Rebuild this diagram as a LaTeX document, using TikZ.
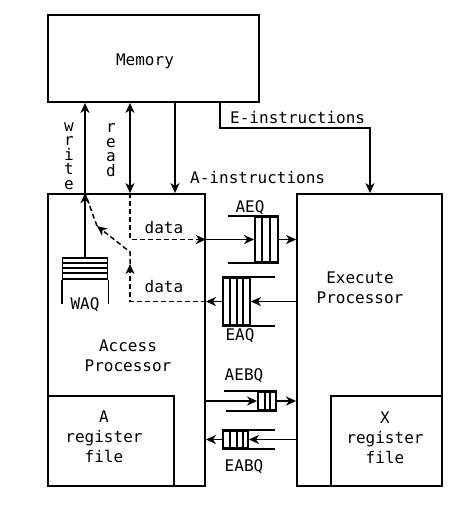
\documentclass[tikz,border=0pt]{standalone}
\usepackage{fontspec}
\setmonofont{DejaVu Sans Mono}
\usetikzlibrary{arrows.meta}
\begin{document}
\begin{tikzpicture}[x=1pt,y=-1pt,line width=1.8pt,
  font=\ttfamily\fontsize{16}{20}\selectfont,
  box/.style={draw,inner sep=0pt},
  arr/.style={-{Stealth[length=10pt,width=9pt,inset=3pt]}},
  barr/.style={{Stealth[length=10pt,width=9pt,inset=3pt]}-{Stealth[length=10pt,width=9pt,inset=3pt]}},
  dat/.style={line width=1.5pt,dash pattern=on 5pt off 3pt},
  vert/.style={align=center,font=\ttfamily\fontsize{16}{14.5}\selectfont}]
\useasboundingbox (0,0) rectangle (471,512);
% memory and the two processors
\node[box,minimum width=211pt,minimum height=87pt] (mem) at (153.5,58.5) {};
\node[box,minimum width=157pt,minimum height=292pt] (ap) at (126.5,340) {};
\node[box,minimum width=145pt,minimum height=292pt] (ep) at (369.5,340) {};
\node[box,minimum width=126pt,minimum height=90pt] (areg) at (111,441) {};
\node[box,minimum width=111pt,minimum height=90pt] (xreg) at (386.5,441) {};
\node (memlbl) at (145,61) {Memory};
\node[align=center] (aplbl) at (128,356) {Access\\Processor};
\node[align=center] (eplbl) at (360,288) {Execute\\Processor};
\node[align=center] (areglbl) at (104,437) {A\\register\\file};
\node[align=center] (xreglbl) at (385,438) {X\\register\\file};
% queues
\node[box,minimum width=23pt,minimum height=45pt] (aeq) at (266.5,239.5) {};
\foreach \x in {262,270} \draw (\x,217) -- (\x,262);
\draw (aeq.north east) -- ++(-51,0);
\draw (aeq.south east) -- ++(-51,0);
\node[box,minimum width=27pt,minimum height=47pt] (eaq) at (236.5,301.5) {};
\foreach \x in {230,237,243} \draw (\x,278) -- (\x,325);
\draw (eaq.north west) -- ++(53,0);
\draw (eaq.south west) -- ++(53,0);
\node[box,minimum width=18pt,minimum height=18pt] (aebq) at (267,401) {};
\foreach \x in {265,270} \draw (\x,392) -- (\x,410);
\draw (aebq.north east) -- ++(-53,0);
\draw (aebq.south east) -- ++(-51,0);
\node[box,minimum width=25pt,minimum height=17pt] (eabq) at (235.5,439.5) {};
\foreach \x in {230,237,243} \draw (\x,431) -- (\x,448);
\draw (eabq.north west) -- ++(53,0);
\draw (eabq.south west) -- ++(53,0);
\node[box,minimum width=45pt,minimum height=21pt] (waq) at (85,268.5) {};
\foreach \y in {263,268,273} \draw (62.5,\y) -- (107.5,\y);
\draw (waq.south west) -- ++(0,24);
\draw (waq.south east) -- ++(0,24);
\node (aeqlbl) at (250,208) {AEQ};
\node (eaqlbl) at (240,336) {EAQ};
\node (aebqlbl) at (244,376) {AEBQ};
\node (eabqlbl) at (244,467) {EABQ};
\node (waqlbl) at (85,305) {WAQ};
% memory traffic
\coordinate (rd) at (130,150);
\coordinate (ai) at (175,150);
\coordinate (ei) at (220,128);
\coordinate (ej) at (370,128);
\draw[arr] (waq.north) -- (ap.north -| waq.north);
\draw[arr] (ap.north -| waq.north) -- (mem.south -| waq.north);
\draw[barr] (mem.south -| rd) -- (ap.north -| rd);
\draw[arr] (mem.south -| ai) -- (ap.north -| ai);
\draw[arr] (mem.south -| ei) -- (ei) -- (ej) -- (ep.north -| ej);
\node[vert] (wrlbl) at (69,156) {w\\r\\i\\t\\e};
\node[vert] (rdlbl) at (111,150) {r\\e\\a\\d};
\node[anchor=west] (ailbl) at (186,178) {A-instructions};
\node[anchor=west] (eilbl) at (226,118) {E-instructions};
% data paths
\coordinate (up) at (130,264);
\coordinate (bend) at (130,252);
\coordinate (mid) at (97,226);
\draw[dat,arr] (ap.north -| rd) -- (rd |- aeq) -- (ap.east |- aeq);
\draw[dat,arr] (ap.east |- eaq) -- (rd |- eaq) -- (up);
\draw[dat,arr] (up) -- (bend) -- (mid);
\draw[dat] (mid) -- (ap.north -| waq.north);
\node (data1) at (164,228) {data};
\node (data2) at (164,287) {data};
\draw[arr] (ap.east |- aeq) -- (aeq.west);
\draw[arr] (aeq.east) -- (ep.west |- aeq);
\draw[arr] (ep.west |- eaq) -- (eaq.east);
\draw[arr] (eaq.west) -- (ap.east |- eaq);
\draw[arr] (ap.east |- aebq) -- (aebq.west);
\draw[arr] (aebq.east) -- (ep.west |- aebq);
\draw[arr] (ep.west |- eabq) -- (eabq.east);
\draw[arr] (eabq.west) -- (ap.east |- eabq);
\end{tikzpicture}
\end{document}
